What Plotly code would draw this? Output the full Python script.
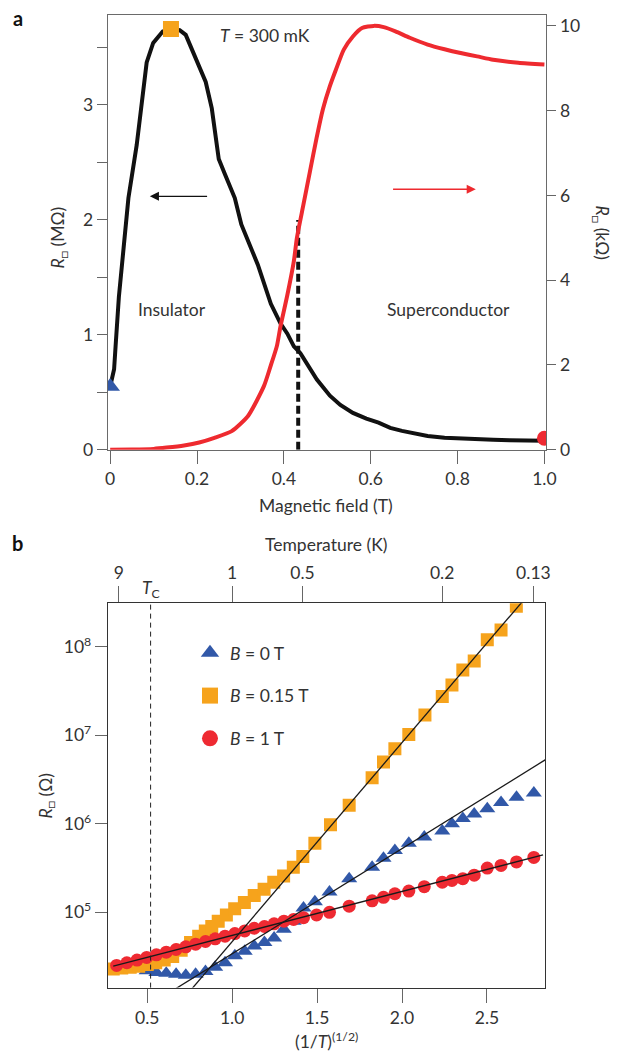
import numpy as np
import plotly.graph_objects as go

W, H = 620, 1063
FONT = "Lato"
TXT = "#333333"
FS = 17.5

# ---------------- Panel a data ----------------
B_ins = [0.0, 0.009, 0.0124, 0.02, 0.031, 0.042, 0.061, 0.076, 0.084, 0.099, 0.121, 0.14, 0.16,
         0.174, 0.189, 0.205, 0.22, 0.234, 0.25, 0.265, 0.287, 0.302, 0.317, 0.34, 0.37, 0.392,
         0.408, 0.423, 0.438, 0.453, 0.476, 0.506, 0.53, 0.559, 0.59, 0.618, 0.645, 0.672, 0.70,
         0.731, 0.77, 0.807, 0.845, 0.882, 0.92, 0.957, 1.0]
R_ins = [0.55, 0.70, 0.90, 1.33, 1.76, 2.19, 2.65, 3.11, 3.37, 3.54, 3.64, 3.66, 3.65,
         3.61, 3.48, 3.35, 3.20, 2.97, 2.53, 2.39, 2.19, 1.96, 1.82, 1.61, 1.27, 1.10,
         1.01, 0.90, 0.84, 0.75, 0.61, 0.47, 0.39, 0.32, 0.27, 0.235, 0.19, 0.164, 0.14,
         0.12, 0.105, 0.097, 0.09, 0.086, 0.082, 0.078, 0.078]

B_sc = [0.0, 0.05, 0.10, 0.13, 0.17, 0.205, 0.24, 0.28, 0.317, 0.354, 0.369, 0.384, 0.392,
        0.408, 0.423, 0.43, 0.445, 0.46, 0.475, 0.49, 0.505, 0.52, 0.538, 0.559, 0.58, 0.607,
        0.63, 0.657, 0.69, 0.731, 0.77, 0.807, 0.845, 0.882, 0.94, 1.0]
R_sc = [0.0, 0.005, 0.02, 0.05, 0.10, 0.17, 0.28, 0.44, 0.79, 1.50, 1.96, 2.45, 2.90,
        3.65, 4.45, 5.0, 5.78, 6.56, 7.34, 8.04, 8.55, 8.97, 9.44, 9.75, 9.95, 10.0,
        9.97, 9.87, 9.72, 9.56, 9.45, 9.36, 9.28, 9.20, 9.13, 9.09]

B_mark = [0.0, 0.14, 1.0]
R_mark = [0.55, 3.66, 0.10]

B_c = 0.433
R_c_top = 2.0

# ---------------- Panel b data ----------------
x_b = [0.30, 0.35, 0.40, 0.44, 0.497, 0.554, 0.612, 0.67, 0.727, 0.785, 0.843, 0.90, 0.958,
       1.016, 1.074, 1.13, 1.19, 1.247, 1.304, 1.362, 1.42, 1.487, 1.573, 1.689, 1.824, 1.891,
       1.958, 2.04, 2.131, 2.237, 2.294, 2.358, 2.425, 2.502, 2.583, 2.674, 2.776]
lg_b = [4.38, 4.38, 4.38, 4.37, 4.34, 4.32, 4.31, 4.30, 4.29, 4.30, 4.33, 4.38, 4.43,
        4.51, 4.56, 4.62, 4.66, 4.71, 4.81, 4.90, 5.05, 5.12, 5.23, 5.38, 5.51, 5.61,
        5.70, 5.78, 5.85, 5.92, 6.00, 6.06, 6.11, 6.17, 6.24, 6.30, 6.35]

x_o = [0.30, 0.35, 0.40, 0.45, 0.50, 0.55, 0.60, 0.65, 0.70, 0.755, 0.803, 0.842, 0.88, 0.918,
       0.966, 1.015, 1.072, 1.13, 1.188, 1.245, 1.303, 1.36, 1.416, 1.487, 1.579, 1.689, 1.824,
       1.891, 1.958, 2.04, 2.135, 2.237, 2.294, 2.358, 2.425, 2.502, 2.583, 2.673]
lg_o = [4.36, 4.37, 4.38, 4.39, 4.41, 4.43, 4.46, 4.50, 4.57, 4.66, 4.73, 4.79, 4.84, 4.90,
        4.97, 5.04, 5.11, 5.19, 5.26, 5.34, 5.41, 5.51, 5.63, 5.78, 5.99, 6.21, 6.52,
        6.70, 6.85, 7.01, 7.23, 7.44, 7.57, 7.74, 7.84, 8.08, 8.19, 8.46]

x_r = [0.32, 0.38, 0.44, 0.497, 0.554, 0.612, 0.67, 0.727, 0.785, 0.843, 0.90, 0.958, 1.016,
       1.074, 1.13, 1.19, 1.247, 1.305, 1.362, 1.42, 1.497, 1.573, 1.689, 1.824, 1.891, 1.958,
       2.04, 2.131, 2.237, 2.294, 2.358, 2.425, 2.502, 2.583, 2.674, 2.776]
lg_r = [4.40, 4.43, 4.46, 4.49, 4.52, 4.55, 4.58, 4.61, 4.64, 4.67, 4.70, 4.73, 4.76,
        4.79, 4.82, 4.84, 4.87, 4.90, 4.92, 4.94, 4.97, 5.00, 5.07, 5.13, 5.17, 5.21,
        5.24, 5.29, 5.34, 5.36, 5.38, 5.42, 5.50, 5.53, 5.57, 5.62]

fit_a = [3.343, 2.420, 4.242]
fit_b = [1.189, 2.249, 0.497]
fit_x0 = [0.60, 0.70, 0.30]
fit_x1 = [2.90, 2.80, 2.83]

T_c = 3.7
T_ticks = [9, 1, 0.5, 0.2, 0.13]
T_labels = ["9", "1", "0.5", "0.2", "0.13"]

C_BLUE = "#3158A8"
C_ORANGE = "#F6A31C"
C_RED = "#EE2A32"
C_CURVE_RED = "#EE2A2F"


def px(x):
    return x / W


def py(y):
    return 1 - y / H


fig = go.Figure()

# Panel a
fig.add_trace(go.Scatter(x=[B_c, B_c], y=[0, R_c_top], mode="lines",
                         line=dict(color="#111111", width=4, dash="8px,4px"),
                         xaxis="x", yaxis="y", showlegend=False))
fig.add_trace(go.Scatter(x=B_sc, y=R_sc, mode="lines",
                         line=dict(color=C_CURVE_RED, width=4, shape="spline", smoothing=0.6),
                         xaxis="x", yaxis="y3", showlegend=False))
fig.add_trace(go.Scatter(x=B_ins, y=R_ins, mode="lines",
                         line=dict(color="#111111", width=4),
                         xaxis="x", yaxis="y", showlegend=False))
fig.add_trace(go.Scatter(x=B_mark, y=R_mark, mode="markers", opacity=1,
                         marker=dict(symbol=["triangle-up", "square", "circle"], opacity=1,
                                     color=[C_BLUE, C_ORANGE, C_RED], size=[17, 16, 15],
                                     line=dict(width=0)),
                         xaxis="x", yaxis="y", showlegend=False))

# Panel b
series = [
    (x_b, lg_b, C_BLUE, "triangle-up", 14, 17, "<i>B</i> = 0 T"),
    (x_o, lg_o, C_ORANGE, "square", 13, 16, "<i>B</i> = 0.15 T"),
    (x_r, lg_r, C_RED, "circle", 13, 16, "<i>B</i> = 1 T"),
]
for xs, lg, col, sym, size, lsize, name in series:
    fig.add_trace(go.Scatter(x=xs, y=[10 ** v for v in lg], mode="markers",
                             marker=dict(symbol=sym, color=col, size=size, line=dict(width=0)),
                             xaxis="x2", yaxis="y2", showlegend=False))
for xs, lg, col, sym, size, lsize, name in series:
    fig.add_trace(go.Scatter(x=[None], y=[None], mode="markers",
                             marker=dict(symbol=sym, color=col, size=lsize, line=dict(width=0)),
                             name=name, legendgroup=name,
                             xaxis="x2", yaxis="y2", showlegend=True))

for a, b, x0, x1 in zip(fit_a, fit_b, fit_x0, fit_x1):
    xx = np.array([x0, x1])
    fig.add_trace(go.Scatter(x=xx, y=10 ** (a + b * xx), mode="lines",
                             line=dict(color="#1a1a1a", width=1.3),
                             xaxis="x2", yaxis="y2", showlegend=False))

fig.add_trace(go.Scatter(x=[], y=[], xaxis="x3", yaxis="y2", showlegend=False))

tickfont = dict(family=FONT, size=FS, color=TXT)


def ax_style(linecolor):
    return dict(showgrid=False, zeroline=False, showline=True, linecolor=linecolor,
                linewidth=1.2, ticks="outside", tickcolor="#666666", tickwidth=1.2,
                tickfont=tickfont)


A_LINE = "#6a6a6a"
B_LINE = "#333333"

dom_a_x = [px(107), px(555)]
dom_a_y = [py(454), py(15)]
dom_b_x = [px(107), px(554)]
dom_b_y = [py(997), py(609)]

fig.update_layout(
    width=W, height=H, margin=dict(l=0, r=0, t=0, b=0), autosize=False,
    paper_bgcolor="white", plot_bgcolor="white",
    font=dict(family=FONT, color=TXT),
    xaxis=dict(domain=dom_a_x, anchor="y", range=[-0.0056, 1.0045],
               tickvals=[0, 0.2, 0.4, 0.6, 0.8, 1.0],
               ticktext=["0", "0.2", "0.4", "0.6", "0.8", "1.0"],
               ticklen=13, mirror=True, **ax_style(A_LINE)),
    yaxis=dict(domain=dom_a_y, anchor="x", range=[0, 3.784],
               tickvals=[0, 1, 2, 3], ticklen=10,
               minor=dict(tickvals=[0.5, 1.5, 2.5, 3.5], ticks="outside", ticklen=10,
                          tickcolor="#666666", tickwidth=1.2),
               **ax_style(A_LINE)),
    yaxis3=dict(overlaying="y", anchor="x", side="right", range=[0, 10.26],
                tickvals=[0, 2, 4, 6, 8, 10], ticklen=9, **ax_style(A_LINE)),
    xaxis2=dict(domain=dom_b_x, anchor="y2", range=[0.2677, 2.844],
                tickvals=[0.5, 1.0, 1.5, 2.0, 2.5],
                ticktext=["0.5", "1.0", "1.5", "2.0", "2.5"],
                ticklen=14, mirror=True, **ax_style(B_LINE)),
    xaxis3=dict(overlaying="x2", anchor="y2", side="top", range=[0.2677, 2.844],
                tickvals=[1 / np.sqrt(t) for t in T_ticks], ticktext=T_labels,
                ticklen=16, **ax_style(B_LINE)),
    yaxis2=dict(domain=dom_b_y, anchor="x2", type="log", range=[4.149, 8.493],
                tickvals=[1e5, 1e6, 1e7, 1e8],
                ticktext=["10<sup>5</sup>", "10<sup>6</sup>", "10<sup>7</sup>", "10<sup>8</sup>"],
                ticklen=12, mirror=True, **ax_style(B_LINE)),
    legend=dict(x=px(191), y=py(641), xanchor="left", yanchor="top",
                bgcolor="rgba(0,0,0,0)", font=dict(family=FONT, size=FS, color=TXT),
                tracegroupgap=17, itemsizing="trace"),
)

x_tc = 1 / np.sqrt(T_c)
fig.add_shape(type="line", xref="x2", yref="y2 domain", x0=x_tc, x1=x_tc, y0=0, y1=1,
              line=dict(color="#222222", width=1, dash="5px,4px"))


def text(xp, yp, s, size=FS, angle=0, bold=False):
    fig.add_annotation(x=px(xp), y=py(yp), xref="paper", yref="paper", text=s,
                       showarrow=False, textangle=angle, xanchor="center", yanchor="middle",
                       font=dict(family=FONT, size=size, color="#111111" if bold else TXT,
                                 weight="bold" if bold else "normal"))


text(15, 18, "a", size=20, bold=True)
text(15, 548, "b", size=20, bold=True)
text(268, 36, "<i>T</i> = 300 mK")
text(173, 312, "Insulator")
text(455, 312, "Superconductor")
text(57, 240, "<i>R</i><sub>□</sub> (MΩ)", angle=-90)
text(611, 235, "<i>R</i><sub>□</sub> (kΩ)", angle=90)
text(330, 510, "Magnetic field (T)")
text(330, 550, "Temperature (K)")
text(330, 1050, "(1/<i>T</i>)<sup>(1/2)</sup>")
text(45, 803, "<i>R</i><sub>□</sub> (Ω)", angle=-90)
fig.add_annotation(x=x_tc, y=py(595), xref="x2", yref="paper", text="<i>T</i><sub>C</sub>",
                   showarrow=False, xanchor="center", yanchor="middle",
                   font=dict(family=FONT, size=FS, color=TXT))

fig.add_annotation(x=0.0913, y=2.205, ax=0.2266, ay=2.205, xref="x", yref="y",
                   axref="x", ayref="y", text="", showarrow=True, arrowhead=2,
                   arrowsize=1.4, arrowwidth=1.3, arrowcolor="#111111")
fig.add_annotation(x=0.842, y=6.146, ax=0.648, ay=6.146, xref="x", yref="y3",
                   axref="x", ayref="y3", text="", showarrow=True, arrowhead=2,
                   arrowsize=1.4, arrowwidth=1.3, arrowcolor=C_CURVE_RED)

fig.write_html("out.html", config={"responsive": False})
